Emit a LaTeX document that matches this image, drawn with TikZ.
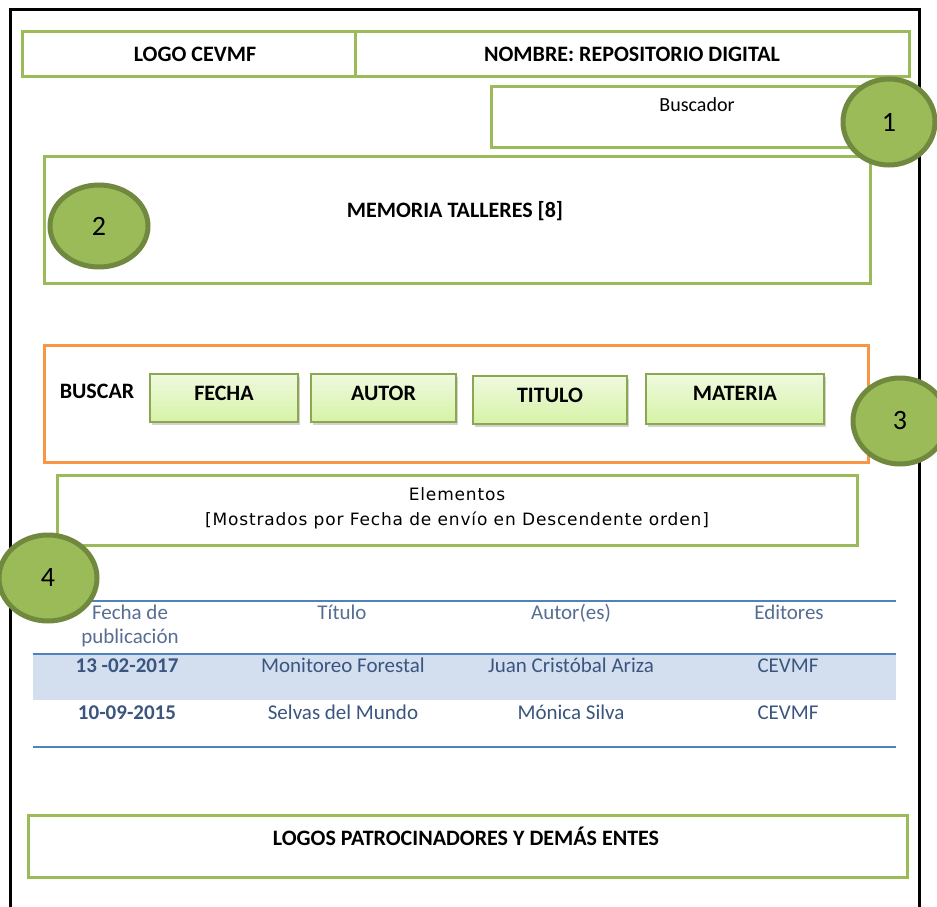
\documentclass[tikz,border=0pt]{standalone}
\usepackage{fontspec}
\setmainfont{Carlito}
\newfontfamily\elfont[LetterSpace=5]{DejaVu Sans}
\usetikzlibrary{shadows,shapes.geometric}
\definecolor{ogreen}{HTML}{9BBB59}
\definecolor{dgreen}{HTML}{71893F}
\definecolor{oorange}{HTML}{F79646}
\definecolor{oblue}{HTML}{4F81BD}
\definecolor{rowblue}{HTML}{D3DFEE}
\definecolor{tabtext}{HTML}{3A557F}
\definecolor{btop}{HTML}{F0F9DF}
\definecolor{bbot}{HTML}{D5F3A6}
\tikzset{
  gbox/.style={draw=ogreen, line width=3pt},
  btn/.style={draw=ogreen!90!black, line width=1.5pt, top color=btop, bottom color=bbot,
    drop shadow={shadow xshift=2pt, shadow yshift=-3pt, opacity=0.35}},
  num/.style={ellipse, draw=dgreen, line width=5pt, fill=ogreen, font=\fontsize{28}{30}\selectfont},
  lbl/.style={font=\fontsize{22}{25}\selectfont\bfseries},
  tab/.style={text=tabtext, font=\fontsize{21}{24}\selectfont, align=center, text height=14pt, text depth=4pt},
  tabb/.style={tab, font=\fontsize{21}{24}\selectfont\bfseries},
}
\begin{document}
\begin{tikzpicture}[x=1pt,y=-1pt]
\useasboundingbox (0,0) rectangle (937,907);
\fill[white] (0,0) rectangle (937,907);
% outer frame
\draw[line width=3pt] (10,915) -- (10,10) -- (919,10) -- (919,915);
% header
\draw[gbox] (22,32) rectangle (909,77);
\draw[gbox] (355,32) -- (355,77);
\node[lbl] (logo) at (195,54) {LOGO CEVMF};
\node[lbl] (nombre) at (632,54) {NOMBRE: REPOSITORIO DIGITAL};
% buscador
\draw[gbox] (491,86) rectangle (862,147);
\node[font=\fontsize{20}{22}\selectfont] (busc) at (697,105) {Buscador};
% memoria
\draw[gbox] (44,156) rectangle (870,283);
\node[lbl] (mem) at (455,211) {MEMORIA TALLERES [8]};
% buscar
\draw[draw=oorange, line width=3pt] (44,345) rectangle (868,462);
\node[lbl] (buscar) at (97,391) {BUSCAR};
\node[btn, minimum width=148pt, minimum height=48pt, inner sep=0pt] (fecha) at (224,398) {};
\node[lbl] at (224,393) {FECHA};
\node[btn, minimum width=145pt, minimum height=48pt, inner sep=0pt] (autor) at (383.5,398) {};
\node[lbl] at (383.5,393) {AUTOR};
\node[btn, minimum width=154pt, minimum height=48pt, inner sep=0pt] (titulo) at (550,400) {};
\node[lbl] at (550,395) {TITULO};
\node[btn, minimum width=178pt, minimum height=50pt, inner sep=0pt] (materia) at (735,399) {};
\node[lbl] at (735,393) {MATERIA};
% elementos
\draw[gbox] (57,475) rectangle (857,545);
\node[font=\fontsize{17}{25}\selectfont\elfont, align=center] (elem) at (457,508)
  {Elementos\\{[}Mostrados por Fecha de envío en Descendente orden{]}};
% table
\fill[rowblue] (33,654) rectangle (896,700);
\draw[oblue, line width=1.5pt] (33,601) -- (896,601);
\draw[oblue, line width=1.5pt] (33,654) -- (896,654);
\draw[oblue, line width=1.5pt] (33,747) -- (896,747);
\node[text=tabtext!85, font=\fontsize{21}{24}\selectfont, align=center] (h1) at (130,626) {Fecha de\\publicación};
\node[tab, text=tabtext!85] (h2) at (342,614) {Título};
\node[tab, text=tabtext!85] (h3) at (571,614) {Autor(es)};
\node[tab, text=tabtext!85] (h4) at (789,614) {Editores};
\node[tabb] (r1a) at (127,667) {13 -02-2017};
\node[tab] (r1b) at (343,667) {Monitoreo Forestal};
\node[tab] (r1c) at (571,667) {Juan Cristóbal Ariza};
\node[tab] (r1d) at (788,667) {CEVMF};
\node[tabb] (r2a) at (127,714) {10-09-2015};
\node[tab] (r2b) at (343,714) {Selvas del Mundo};
\node[tab] (r2c) at (571,714) {Mónica Silva};
\node[tab] (r2d) at (788,714) {CEVMF};
% footer
\draw[gbox] (28,815) rectangle (907,877);
\node[lbl] (foot) at (466,836) {LOGOS PATROCINADORES Y DEMÁS ENTES};
% numbered circles
\node[num, minimum width=92pt, minimum height=86pt] (c1) at (889,122) {1};
\node[num, minimum width=98pt, minimum height=82pt] (c2) at (99,226) {2};
\node[num, minimum width=94pt, minimum height=86pt] (c3) at (900,421) {3};
\node[num, minimum width=98pt, minimum height=86pt] (c4) at (48,578) {4};
\end{tikzpicture}
\end{document}
